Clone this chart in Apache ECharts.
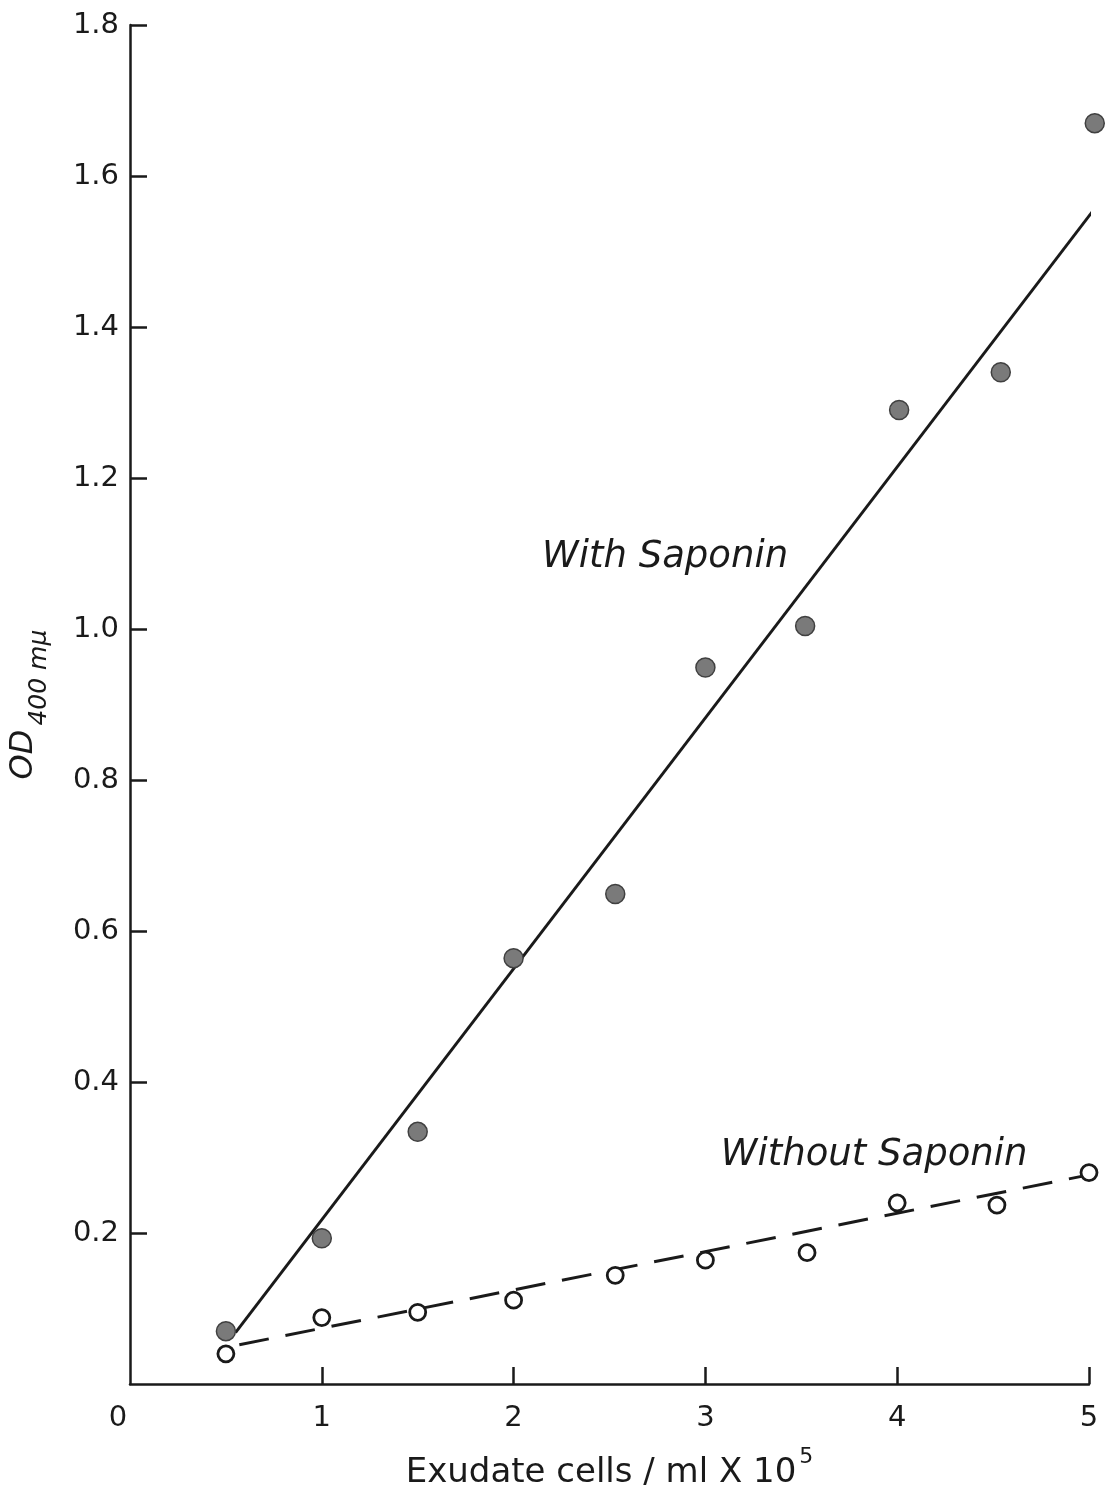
<!DOCTYPE html>
<html>
<head>
<meta charset="utf-8">
<script src="https://cdn.jsdelivr.net/npm/echarts@6/dist/echarts.min.js"></script>
<style>
html,body{margin:0;padding:0;background:#fff;}
#chart{width:1110px;height:1495px;}
</style>
</head>
<body>
<div id="chart"></div>
<script>
// Data
const xTicks = [0, 1, 2, 3, 4, 5];
const yTicks = [0.2, 0.4, 0.6, 0.8, 1.0, 1.2, 1.4, 1.6, 1.8];
const withSaponinX = [0.5, 1.0, 1.5, 2.0, 2.53, 3.0, 3.52, 4.01, 4.54, 5.03];
const withSaponinY = [0.07, 0.193, 0.334, 0.564, 0.649, 0.949, 1.004, 1.29, 1.34, 1.67];
const withoutSaponinX = [0.5, 1.0, 1.5, 2.0, 2.53, 3.0, 3.53, 4.0, 4.52, 5.0];
const withoutSaponinY = [0.04, 0.088, 0.095, 0.111, 0.144, 0.164, 0.174, 0.240, 0.237, 0.280];
const withFitX = [0.55, 5.06];
const withFitY = [0.068, 1.567];
const withoutFitX = [0.57, 5.0];
const withoutFitY = [0.052, 0.277];
const annotationNames = ['With Saponin', 'Without Saponin'];
const annotationX = [2.79, 3.88];
const annotationY = [1.095, 0.303];

const zip = (a, b) => a.map((v, i) => [v, b[i]]);

const chart = echarts.init(document.getElementById('chart'), null, {renderer: 'canvas'});
const ink = '#1a1a1a';
const font = 'DejaVu Sans';

chart.setOption({
  backgroundColor: '#ffffff',
  animation: false,
  grid: {left: 130, right: 21, top: 25, bottom: 105, containLabel: false},
  xAxis: {
    type: 'value', min: 0, max: 5, interval: 1,
    axisLine: {show: true, onZero: false, lineStyle: {color: ink, width: 2.5}},
    axisTick: {show: true, inside: true, length: 17, lineStyle: {color: ink, width: 2.5},
      customValues: xTicks.filter(v => v > 0)},
    splitLine: {show: false},
    axisLabel: {
      margin: 20, color: ink, fontFamily: font, fontSize: 29, customValues: xTicks,
      formatter: v => v === 0 ? '{z|0}' : String(v),
      rich: {z: {fontFamily: font, fontSize: 29, color: ink, padding: [0, 24, 0, 0]}}
    },
    name: '{n|Exudate cells / ml X 10}{s|5}',
    nameLocation: 'middle', nameGap: 62,
    nameTextStyle: {
      rich: {
        n: {fontFamily: font, fontSize: 34, color: ink, verticalAlign: 'bottom', lineHeight: 44},
        s: {fontFamily: font, fontSize: 22, color: ink, verticalAlign: 'top', lineHeight: 44, padding: [0, 0, 18, 3]}
      }
    }
  },
  yAxis: {
    type: 'value', min: 0, max: 1.8, interval: 0.2,
    axisLine: {show: true, onZero: false, lineStyle: {color: ink, width: 2.5}},
    axisTick: {show: true, inside: true, length: 17, lineStyle: {color: ink, width: 2.5},
      customValues: yTicks},
    splitLine: {show: false},
    axisLabel: {
      margin: 11, color: ink, fontFamily: font, fontSize: 29, customValues: yTicks,
      formatter: v => v.toFixed(1)
    },
    name: '{n|OD}{s|400 mμ}',
    nameLocation: 'middle', nameGap: 78, nameRotate: 90,
    nameTextStyle: {
      rich: {
        n: {fontFamily: font, fontSize: 32, fontStyle: 'italic', color: ink, verticalAlign: 'top', lineHeight: 44},
        s: {fontFamily: font, fontSize: 25, fontStyle: 'italic', color: ink, verticalAlign: 'bottom', lineHeight: 44, padding: [12, 0, 0, 4]}
      }
    }
  },
  series: [
    {
      type: 'line', data: zip(withFitX, withFitY), showSymbol: false, silent: true, clip: false,
      lineStyle: {color: ink, width: 3}
    },
    {
      type: 'line', data: zip(withoutFitX, withoutFitY), showSymbol: false, silent: true, clip: false,
      lineStyle: {color: ink, width: 3, type: [30, 17]}
    },
    {
      type: 'scatter', data: zip(withSaponinX, withSaponinY), symbol: 'circle', symbolSize: 19, clip: false,
      itemStyle: {color: '#7a7a7a', borderColor: '#404040', borderWidth: 1.5, opacity: 1}, z: 5
    },
    {
      type: 'scatter', data: zip(withoutSaponinX, withoutSaponinY), symbol: 'circle', symbolSize: 16, clip: false,
      itemStyle: {color: '#ffffff', borderColor: ink, borderWidth: 2.8, opacity: 1}, z: 5
    },
    {
      type: 'scatter', symbolSize: 0, silent: true, clip: false,
      itemStyle: {opacity: 1},
      data: annotationNames.map((n, i) => ({name: n, value: [annotationX[i], annotationY[i]]})),
      label: {
        show: true, position: 'inside', formatter: '{b}',
        fontFamily: font, fontStyle: 'italic', fontSize: 37, color: ink, opacity: 1
      }
    }
  ]
});
</script>
</body>
</html>
